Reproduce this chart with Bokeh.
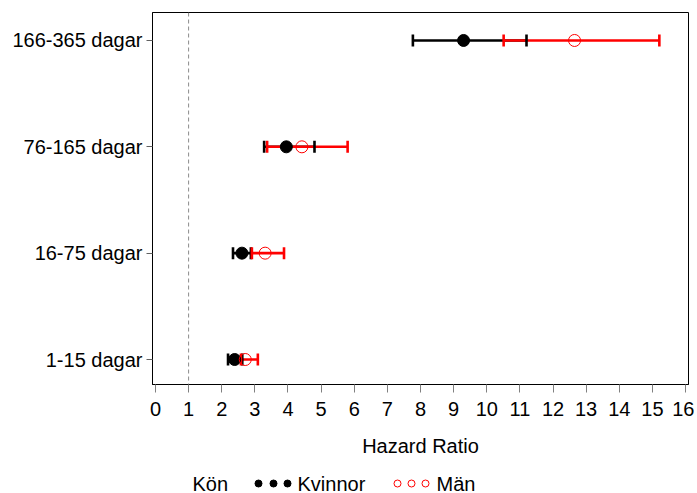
import numpy as np
from bokeh.plotting import figure
from bokeh.layouts import column
from bokeh.models import ColumnDataSource, FixedTicker, Span, Range1d
from bokeh.core.properties import value
from bokeh.embed import file_html
from bokeh.resources import INLINE

# ---- data ----
categories = ["1-15 dagar", "16-75 dagar", "76-165 dagar", "166-365 dagar"]
kvinnor_hr = [2.39, 2.61, 3.95, 9.30]
kvinnor_lo = [2.19, 2.34, 3.28, 7.77]
kvinnor_hi = [2.62, 2.88, 4.80, 11.20]
man_hr = [2.71, 3.31, 4.42, 12.65]
man_lo = [2.58, 2.91, 3.37, 10.51]
man_hi = [3.09, 3.88, 5.80, 15.21]
x_ticks = list(range(0, 17))
ref_line = 1
legend_title = "Kön"
series_names = ["Kvinnor", "Män"]

FONT = "Liberation Sans"
ypos = list(range(len(categories)))
W = 694
BL, BR = 152, 6

p = figure(width=W, height=468, output_backend="svg", toolbar_location=None,
           x_range=Range1d(-0.09, 16.09), y_range=Range1d(-0.235, 3.263),
           min_border_left=BL, min_border_right=BR, min_border_top=12, min_border_bottom=84)
p.grid.visible = False
p.outline_line_color = "black"
p.outline_line_width = 1
p.background_fill_color = "white"
p.border_fill_color = "white"

# reference line
p.add_layout(Span(location=ref_line, dimension="height", line_color="#8c8c8c",
                  line_width=1, line_dash="4 3"))

kw = ColumnDataSource(dict(y=ypos, hr=kvinnor_hr, lo=kvinnor_lo, hi=kvinnor_hi))
mn = ColumnDataSource(dict(y=ypos, hr=man_hr, lo=man_lo, hi=man_hi))

LW = 2.6
p.segment(x0="lo", x1="hi", y0="y", y1="y", source=kw, line_color="black", line_width=LW)
p.segment(x0="lo", x1="hi", y0="y", y1="y", source=mn, line_color="#ff0000", line_width=LW)
for src, col in ((kw, "black"), (mn, "#ff0000")):
    for fld in ("lo", "hi"):
        p.scatter(x=fld, y="y", source=src, marker="dash", angle=np.pi / 2, size=12,
                  line_color=col, line_width=LW)
p.scatter(x="hr", y="y", source=kw, marker="circle", size=12, fill_color="black", line_color="black")
p.scatter(x="hr", y="y", source=mn, marker="circle", size=12, fill_color=None,
          line_color="#ff0000", line_width=1)

# axes
xa = p.xaxis[0]
xa.ticker = FixedTicker(ticks=x_ticks)
xa.minor_tick_line_color = None
xa.major_tick_out = 8
xa.major_tick_in = 0
xa.major_tick_line_color = "#808080"
xa.axis_line_color = "black"
xa.major_label_text_font = FONT
xa.major_label_text_font_size = "20px"
xa.major_label_text_color = "black"
xa.major_label_standoff = 9
xa.axis_label = "Hazard Ratio"
xa.axis_label_text_font = FONT
xa.axis_label_text_font_size = "20px"
xa.axis_label_text_font_style = "normal"
xa.axis_label_text_color = "black"
xa.axis_label_standoff = 16

ya = p.yaxis[0]
ya.ticker = FixedTicker(ticks=ypos)
ya.major_label_overrides = {i: c for i, c in zip(ypos, categories)}
ya.minor_tick_line_color = None
ya.major_tick_out = 6
ya.major_tick_in = 0
ya.major_tick_line_color = "#606060"
ya.axis_line_color = "black"
ya.major_label_text_font = FONT
ya.major_label_text_font_size = "20px"
ya.major_label_text_color = "black"
ya.major_label_standoff = 4

# ---- legend strip below the chart (x in page pixels; frame aligned with chart frame) ----
LH = 25
lg = figure(width=W, height=LH, output_backend="svg", toolbar_location=None,
            x_range=Range1d(BL, W - BR), y_range=Range1d(0, LH),
            min_border_left=BL, min_border_right=BR, min_border_top=0, min_border_bottom=0)
lg.axis.visible = False
lg.grid.visible = False
lg.outline_line_color = None
lg.background_fill_color = "white"
lg.border_fill_color = "white"
ly = 10
lg.text(x=[192, 297, 436], y=[ly] * 3, text=[legend_title] + series_names,
        text_font=value(FONT), text_font_size="20px", text_color="black",
        text_baseline="middle", text_align="left")
lg.scatter(x=[258, 273, 287], y=[ly] * 3, marker="circle", size=7,
           fill_color="black", line_color="black")
lg.scatter(x=[397, 411, 425], y=[ly] * 3, marker="circle", size=7,
           fill_color=None, line_color="#ff0000", line_width=1)

layout = column(p, lg, spacing=0)
open("out.html", "w").write(file_html(layout, INLINE))
